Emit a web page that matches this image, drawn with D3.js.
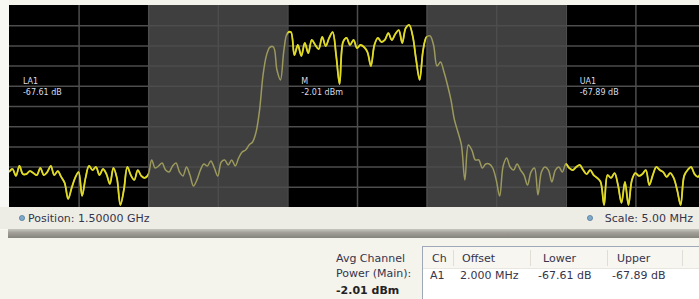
<!DOCTYPE html>
<html>
<head>
<meta charset="utf-8">
<script src="https://cdn.jsdelivr.net/npm/d3@7"></script>
<style>
  body { margin: 0; background: #f4f3ec; }
  svg { display: block; font-family: "DejaVu Sans", sans-serif; }
</style>
</head>
<body>
<div id="chart"></div>
<script>
// Sweep: center 1.5 GHz, 5 MHz/div, 10 divisions, 201 trace points
var centerFreq = 1500;      // MHz
var scalePerDiv = 5;        // MHz
var numDivs = 10;
var refLevel = 0;           // dBm at top of screen
var dbPerDiv = 10;

// Trace levels (dBm), left to right
var traceLevels = [
  -82.7,-81.2,-84.6,-79.7,-83.7,-83.7,-82.2,-83.2,-84.2,-80.7,
  -84.2,-82.7,-79.7,-84.2,-82.2,-85.1,-88.1,-96.0,-90.6,-85.6,
  -82.7,-94.5,-85.6,-79.7,-81.7,-80.2,-84.2,-81.2,-83.7,-88.6,
  -80.7,-85.6,-99.0,-91.6,-80.2,-84.2,-86.6,-81.7,-84.6,-85.6,
  -84.0,
  -76.7,-80.7,-79.7,-78.2,-81.7,-82.7,-79.7,-78.2,-82.7,-84.6,
  -80.2,-84.2,-89.6,-86.6,-81.7,-78.7,-79.7,-77.2,-80.7,-84.6,
  -77.7,-76.7,-79.2,-76.7,-79.7,-75.7,-72.8,-71.8,-69.3,-67.8,
  -62.9,-52.0,-34.7,-24.8,-20.8,-20.8,-32.2,-37.1,-22.3,-13.9,
  -13.4,-24.8,-19.8,-25.2,-18.8,-23.8,-17.3,-19.8,-21.8,-15.8,
  -20.3,-16.3,-13.4,-24.8,-39.1,-18.3,-16.3,-19.8,-17.3,-21.3,
  -19.8,-20.8,-23.3,-30.2,-19.8,-16.3,-18.3,-17.3,-13.9,-17.3,
  -14.4,-12.4,-18.8,-11.4,-9.9,-15.3,-27.2,-37.1,-22.3,-15.8,
  -15.3,-19.8,-30.2,-28.2,-33.2,-39.6,-47.0,-56.9,-62.9,-69.3,
  -86.6,-69.3,-71.8,-76.7,-76.7,-80.7,-78.7,-78.7,-80.7,-86.6,
  -94.6,-79.7,-75.7,-80.2,-81.7,-78.7,-81.7,-84.2,-89.1,-82.7,
  -80.7,-94.0,-82.7,-80.2,-81.7,-87.6,-81.7,-80.2,-82.7,-78.7,
  -80.7,-81.7,-80.2,-79.2,-81.7,-83.7,-81.7,-84.2,-85.6,-87.6,
  -99.0,-84.2,-85.6,-83.2,-89.1,-98.0,-87.6,-99.0,-86.6,-83.2,
  -84.6,-83.7,-81.7,-89.1,-84.2,-80.2,-81.7,-82.7,-85.1,-83.2,
  -85.6,-91.6,-99.0,-84.6,-81.7,-80.2,-83.7,-85.1,-82.7,-81.7
];

// Adjacent channel bands (shaded) and measured bands (black), MHz
var adjStart = [1485, 1505];
var adjEnd   = [1495, 1515];
var bandStart = [1475, 1495, 1515];
var bandEnd   = [1485, 1505, 1525];

// On-screen readouts
var readoutNames  = ["LA1", "M", "UA1"];
var readoutValues = ["-67.61 dB", "-2.01 dBm", "-67.89 dB"];
var readoutFreqs  = [1476, 1496, 1516];
var readoutLevel  = -39;

// Status bar
var positionText = "Position: 1.50000 GHz";
var scaleText = "Scale: 5.00 MHz";

// Result panel
var mainLabel = ["Avg Channel", "Power (Main):"];
var mainValue = "-2.01 dBm";
var tableHeaders = ["Ch", "Offset", "Lower", "Upper"];
var tableRow = ["A1", "2.000 MHz", "-67.61 dB", "-67.89 dB"];

var outerWidth = 699;
var outerHeight = 299;
var plot = { left: 9, top: 5, width: 696, height: 202 };

var svg = d3.select("#chart").append("svg")
  .attr("width", outerWidth)
  .attr("height", outerHeight);

// Window background pieces
svg.append("rect").attr("width", outerWidth).attr("height", outerHeight).attr("fill", "#f4f3ec");
svg.append("rect").attr("x", 0).attr("y", 0).attr("width", plot.left).attr("height", 230).attr("fill", "#f7f7f3");
svg.append("rect").attr("x", 0).attr("y", 207).attr("width", outerWidth).attr("height", 22).attr("fill", "#eeede5");

var defs = svg.append("defs");
var sepGrad = defs.append("linearGradient")
  .attr("id", "sep").attr("x1", 0).attr("x2", 0).attr("y1", 0).attr("y2", 1);
sepGrad.append("stop").attr("offset", "0%").attr("stop-color", "#c9c8c0");
sepGrad.append("stop").attr("offset", "40%").attr("stop-color", "#a19f97");
sepGrad.append("stop").attr("offset", "100%").attr("stop-color", "#85847c");
svg.append("rect").attr("x", 8).attr("y", 229).attr("width", outerWidth).attr("height", 9).attr("fill", "url(#sep)");

// Scales
var fStart = centerFreq - scalePerDiv * numDivs / 2;
var fStop = centerFreq + scalePerDiv * numDivs / 2;
var freqs = d3.range(traceLevels.length).map(function(i) {
  return fStart + i * (fStop - fStart) / (traceLevels.length - 1);
});

var xScale = d3.scaleLinear().domain([fStart, fStop]).range([0, plot.width]);
var yScale = d3.scaleLinear()
  .domain([refLevel - dbPerDiv * numDivs, refLevel])
  .range([plot.height, 0])
  .clamp(true);

var g = svg.append("g")
  .attr("transform", "translate(" + plot.left + "," + plot.top + ")");

var plotClip = defs.append("clipPath").attr("id", "plotArea");
plotClip.append("rect").attr("width", plot.width).attr("height", plot.height);

g.append("rect").attr("width", plot.width).attr("height", plot.height).attr("fill", "#000");

g.selectAll("rect.adj").data(adjStart).enter().append("rect")
  .attr("class", "adj")
  .attr("x", function(d) { return xScale(d); })
  .attr("width", function(d, i) { return xScale(adjEnd[i]) - xScale(d); })
  .attr("height", plot.height)
  .attr("fill", "#3f3f3f");

// Graticule
var gridX = d3.axisBottom(xScale)
  .tickValues(d3.range(1, numDivs).map(function(k) { return fStart + k * scalePerDiv; }))
  .tickSize(-plot.height).tickFormat("");
var gridY = d3.axisLeft(yScale)
  .tickValues(d3.range(1, numDivs).map(function(k) { return refLevel - k * dbPerDiv; }))
  .tickSize(-plot.width).tickFormat("");

g.append("g").attr("transform", "translate(0," + plot.height + ")").call(gridX)
  .call(function(s) { s.select(".domain").remove(); })
  .selectAll("line").attr("stroke", "#4d4d4d").attr("stroke-width", 1.5);
g.append("g").call(gridY)
  .call(function(s) { s.select(".domain").remove(); })
  .selectAll("line").attr("stroke", "#4d4d4d").attr("stroke-width", 1.5);

// Trace: dim everywhere, bright in the measured bands
var line = d3.line()
  .x(function(d, i) { return xScale(freqs[i]); })
  .y(function(d) { return yScale(d); })
  .curve(d3.curveCatmullRom.alpha(0.5));

var clip = defs.append("clipPath").attr("id", "bands");
clip.selectAll("rect").data(bandStart).enter().append("rect")
  .attr("x", function(d) { return xScale(d); })
  .attr("width", function(d, i) { return xScale(bandEnd[i]) - xScale(d); })
  .attr("y", 0)
  .attr("height", plot.height);

var traceG = g.append("g").attr("clip-path", "url(#plotArea)");
traceG.append("path").datum(traceLevels)
  .attr("d", line).attr("fill", "none")
  .attr("stroke", "#9b995c").attr("stroke-width", 1.5);
traceG.append("path").datum(traceLevels)
  .attr("d", line).attr("fill", "none")
  .attr("clip-path", "url(#bands)")
  .attr("stroke", "#e0da22").attr("stroke-width", 1.8);

// Readouts
var ro = g.selectAll("g.readout").data(readoutNames).enter().append("g")
  .attr("class", "readout")
  .attr("transform", function(d, i) {
    return "translate(" + xScale(readoutFreqs[i]) + "," + yScale(readoutLevel) + ")";
  });
ro.append("text").attr("y", 0).text(function(d) { return d; })
  .attr("font-size", 8).attr("fill", "#d6dcea");
ro.append("text").attr("y", 11).text(function(d, i) { return readoutValues[i]; })
  .attr("font-size", 8).attr("fill", "#d6dcea");

// Status bar
var textColor = "#35344c";
function icon(cx, cy) {
  svg.append("circle").attr("cx", cx).attr("cy", cy).attr("r", 2.6)
    .attr("fill", "#7fa8c8").attr("stroke", "#3e6a94").attr("stroke-width", 0.6);
}
icon(22, 218);
svg.append("text").attr("x", 28).attr("y", 222).attr("font-size", 11)
  .attr("fill", textColor).text(positionText);
icon(590, 218);
svg.append("text").attr("x", 693).attr("y", 222).attr("font-size", 11)
  .attr("text-anchor", "end").attr("fill", textColor).text(scaleText);

// Result panel
svg.append("text").attr("x", 336).attr("y", 262).attr("font-size", 11)
  .attr("fill", textColor).text(mainLabel[0]);
svg.append("text").attr("x", 336).attr("y", 277).attr("font-size", 11)
  .attr("fill", textColor).text(mainLabel[1]);
svg.append("text").attr("x", 336).attr("y", 294).attr("font-size", 11)
  .attr("font-weight", "bold").attr("fill", "#222").text(mainValue);

var tbl = svg.append("g").attr("transform", "translate(422,246)");
tbl.append("rect").attr("x", 0.5).attr("y", 0.5).attr("width", 300).attr("height", 80)
  .attr("fill", "#fff").attr("stroke", "#9fa8b8");
tbl.append("rect").attr("x", 1).attr("y", 1).attr("width", 300).attr("height", 21)
  .attr("fill", "#f7f6f1");
var colX = [10, 40, 121, 195];
var sepX = [31, 108, 185, 260];
tbl.selectAll("line.sep").data(sepX).enter().append("line")
  .attr("class", "sep")
  .attr("x1", function(d) { return d + 0.5; }).attr("x2", function(d) { return d + 0.5; })
  .attr("y1", 4).attr("y2", 20)
  .attr("stroke", "#e0ded4");
tbl.append("line").attr("x1", 1).attr("x2", 300).attr("y1", 22.5).attr("y2", 22.5)
  .attr("stroke", "#e8e6de");
tbl.selectAll("text.hd").data(tableHeaders).enter().append("text")
  .attr("class", "hd")
  .attr("x", function(d, i) { return colX[i]; }).attr("y", 16)
  .attr("font-size", 11).attr("fill", textColor).text(function(d) { return d; });
tbl.selectAll("text.row").data(tableRow).enter().append("text")
  .attr("class", "row")
  .attr("x", function(d, i) { return colX[i] - (i > 1 ? 5 : 2); }).attr("y", 33)
  .attr("font-size", 11).attr("fill", textColor).text(function(d) { return d; });
</script>
</body>
</html>
